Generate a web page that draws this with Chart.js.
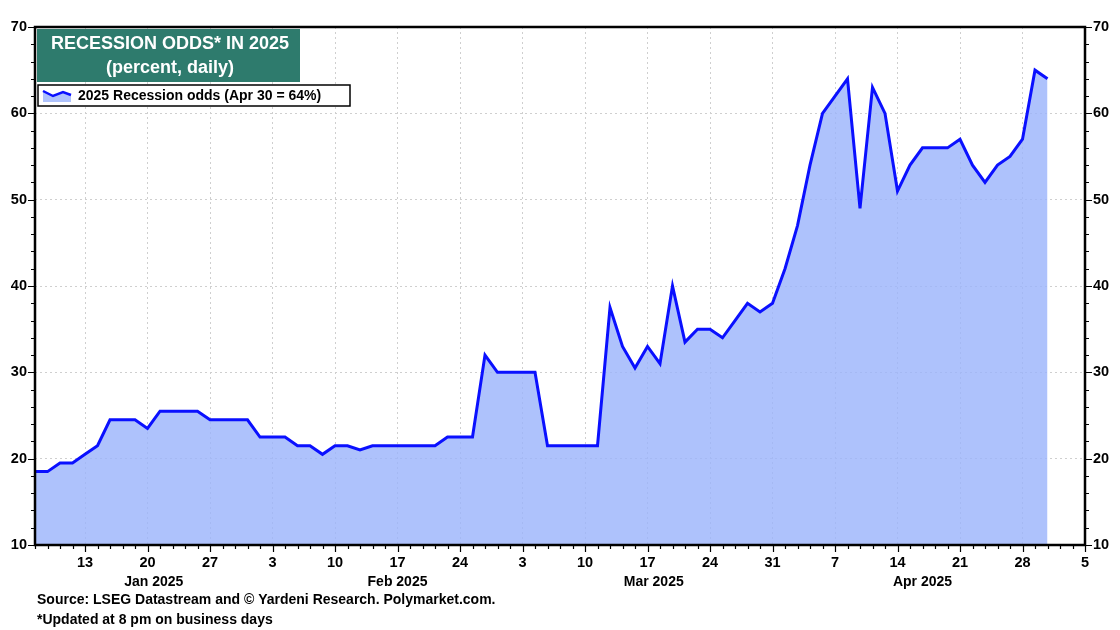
<!DOCTYPE html>
<html lang="en">

<head>
    <meta charset="UTF-8">
    <title>Recession odds in 2025</title>
    <script src="https://cdn.jsdelivr.net/npm/chart.js"></script>
    <style>
        body { margin: 0; background: #fff; }
        #wrap { width: 1120px; height: 630px; }
    </style>
</head>

<body>
    <div id="wrap"><canvas id="oddsChart" width="1120" height="630"></canvas></div>
    <script>
        // business days shown on the axis, per month (2025)
        const janDays = [7, 8, 9, 10, 13, 14, 15, 16, 17, 20, 21, 22, 23, 24, 27, 28, 29, 30, 31];
        const febDays = [3, 4, 5, 6, 7, 10, 11, 12, 13, 14, 17, 18, 19, 20, 21, 24, 25, 26, 27, 28];
        const marDays = [3, 4, 5, 6, 7, 10, 11, 12, 13, 14, 17, 18, 19, 20, 21, 24, 25, 26, 27, 28, 31];
        const aprDays = [1, 2, 3, 4, 7, 8, 9, 10, 11, 14, 15, 16, 17, 18, 21, 22, 23, 24, 25, 28, 29, 30];
        const mayDays = [1, 2, 5];
        const monthNames = ['Jan 2025', 'Feb 2025', 'Mar 2025', 'Apr 2025'];

        // 2025 recession odds, percent (Jan 7 .. Apr 30)
        const odds = [
            18.5, 18.5, 19.5, 19.5, 20.5, 21.5, 24.5, 24.5, 24.5, 23.5,
            25.5, 25.5, 25.5, 25.5, 24.5, 24.5, 24.5, 24.5, 22.5, 22.5,
            22.5, 21.5, 21.5, 20.5, 21.5, 21.5, 21, 21.5, 21.5, 21.5,
            21.5, 21.5, 21.5, 22.5, 22.5, 22.5, 32, 30, 30, 30,
            30, 21.5, 21.5, 21.5, 21.5, 21.5, 37.5, 33, 30.5, 33,
            31, 40, 33.5, 35, 35, 34, 36, 38, 37, 38,
            42, 47, 54, 60, 62, 64, 49, 63, 60, 51,
            54, 56, 56, 56, 57, 54, 52, 54, 55, 57,
            65, 64
        ];

        const yTicks = [10, 20, 30, 40, 50, 60, 70];

        const dates = [];
        [janDays, febDays, marDays, aprDays, mayDays].forEach((days, m) => {
            days.forEach(d => dates.push(new Date(2025, m, d)));
        });
        const labels = dates.map(d => d.toISOString().slice(0, 10));
        const isMonday = i => dates[i] && dates[i].getDay() === 1;

        const FONT = '"Liberation Sans", Arial, sans-serif';
        const GRID = '#cfcfcf';
        const LINE = '#0a10ff';
        const FILL = 'rgba(154,179,251,0.8)';

        const decorations = {
            id: 'decorations',
            afterDraw(chart) {
                const ctx = chart.ctx;
                const a = chart.chartArea;
                const x = chart.scales.x;
                const y = chart.scales.y;
                ctx.save();

                // frame
                ctx.strokeStyle = '#000';
                ctx.lineWidth = 2.5;
                ctx.strokeRect(a.left, a.top, a.right - a.left, a.bottom - a.top);

                // tick marks
                ctx.lineWidth = 1.2;
                ctx.beginPath();
                for (let i = 0; i < labels.length; i++) {
                    const px = Math.round(x.getPixelForValue(i)) + 0.5;
                    const len = isMonday(i) ? 7 : 4;
                    ctx.moveTo(px, a.bottom);
                    ctx.lineTo(px, a.bottom + len);
                }
                for (let v = 10; v <= 70; v += 2) {
                    const py = Math.round(y.getPixelForValue(v)) + 0.5;
                    const len = v % 10 === 0 ? 7 : 4;
                    ctx.moveTo(a.left, py);
                    ctx.lineTo(a.left - len, py);
                    ctx.moveTo(a.right, py);
                    ctx.lineTo(a.right + len, py);
                }
                ctx.stroke();

                // month labels centred under each month
                const starts = [0, janDays.length, janDays.length + febDays.length,
                    janDays.length + febDays.length + marDays.length,
                    janDays.length + febDays.length + marDays.length + aprDays.length];
                ctx.fillStyle = '#000';
                ctx.font = 'bold 14px ' + FONT;
                ctx.textAlign = 'center';
                ctx.textBaseline = 'middle';
                monthNames.forEach((name, k) => {
                    const p0 = x.getPixelForValue(starts[k]);
                    const p1 = x.getPixelForValue(starts[k + 1]);
                    ctx.fillText(name, (p0 + p1) / 2, a.bottom + 37);
                });

                // footnotes
                ctx.textAlign = 'left';
                ctx.font = 'bold 14px ' + FONT;
                ctx.fillText('Source: LSEG Datastream and \u00A9 Yardeni Research. Polymarket.com.', 37, 600);
                ctx.fillText('*Updated at 8 pm on business days', 37, 620);

                // title box
                ctx.fillStyle = '#2e7b6d';
                ctx.fillRect(a.left + 2, a.top + 2, 263, 53);
                ctx.fillStyle = '#fff';
                ctx.textAlign = 'center';
                ctx.font = 'bold 18px ' + FONT;
                ctx.fillText('RECESSION ODDS* IN 2025', a.left + 2 + 133, a.top + 17);
                ctx.fillText('(percent, daily)', a.left + 2 + 133, a.top + 41);

                // legend box
                const lx = a.left + 3, ly = a.top + 58;
                ctx.fillStyle = '#fff';
                ctx.fillRect(lx, ly, 312, 21);
                ctx.strokeStyle = '#000';
                ctx.lineWidth = 1.5;
                ctx.strokeRect(lx, ly, 312, 21);
                ctx.beginPath();
                ctx.moveTo(lx + 5, ly + 6);
                ctx.lineTo(lx + 15, ly + 11);
                ctx.lineTo(lx + 25, ly + 7);
                ctx.lineTo(lx + 33, ly + 10);
                ctx.lineTo(lx + 33, ly + 17);
                ctx.lineTo(lx + 5, ly + 17);
                ctx.closePath();
                ctx.fillStyle = FILL;
                ctx.fill();
                ctx.beginPath();
                ctx.moveTo(lx + 5, ly + 6);
                ctx.lineTo(lx + 15, ly + 11);
                ctx.lineTo(lx + 25, ly + 7);
                ctx.lineTo(lx + 33, ly + 10);
                ctx.strokeStyle = LINE;
                ctx.lineWidth = 2.5;
                ctx.stroke();
                ctx.fillStyle = '#000';
                ctx.textAlign = 'left';
                ctx.font = 'bold 14px ' + FONT;
                ctx.fillText('2025 Recession odds (Apr 30 = 64%)', lx + 40, ly + 11);

                ctx.restore();
            }
        };

        const yAxis = (position) => ({
            type: 'linear',
            position: position,
            min: 10,
            max: 70,
            afterBuildTicks: scale => { scale.ticks = yTicks.map(v => ({ value: v })); },
            afterFit: scale => { scale.width = 35; },
            ticks: {
                color: '#000',
                padding: 8,
                font: { family: FONT, size: 14.5, weight: 'bold' }
            },
            grid: {
                display: position === 'left',
                drawTicks: false,
                color: ctx => (ctx.tick && (ctx.tick.value === 10 || ctx.tick.value === 70)) ? 'rgba(0,0,0,0)' : GRID,
                lineWidth: 1
            },
            border: { display: false, dash: [2, 3] }
        });

        const ctx = document.getElementById('oddsChart').getContext('2d');
        new Chart(ctx, {
            type: 'line',
            data: {
                labels: labels,
                datasets: [{
                    label: '2025 Recession odds (Apr 30 = 64%)',
                    data: odds,
                    borderColor: LINE,
                    borderWidth: 3,
                    backgroundColor: FILL,
                    fill: 'start',
                    tension: 0,
                    pointRadius: 0,
                    borderJoinStyle: 'miter'
                }]
            },
            options: {
                responsive: false,
                animation: false,
                devicePixelRatio: 1,
                layout: { padding: { top: 27, left: 0, right: 0, bottom: 0 } },
                plugins: {
                    legend: { display: false },
                    tooltip: { enabled: false }
                },
                scales: {
                    x: {
                        type: 'category',
                        offset: false,
                        afterFit: scale => { scale.height = 85; },
                        ticks: {
                            autoSkip: false,
                            maxRotation: 0,
                            minRotation: 0,
                            padding: 9,
                            color: '#000',
                            font: { family: FONT, size: 14.5, weight: 'bold' },
                            callback: (value, index) => isMonday(index) ? String(dates[index].getDate()) : ''
                        },
                        grid: {
                            drawTicks: false,
                            color: c => (isMonday(c.index) && c.index !== labels.length - 1) ? GRID : 'rgba(0,0,0,0)',
                            lineWidth: 1
                        },
                        border: { display: false, dash: [2, 3] }
                    },
                    y: yAxis('left'),
                    y2: yAxis('right')
                }
            },
            plugins: [decorations]
        });
    </script>
</body>

</html>
